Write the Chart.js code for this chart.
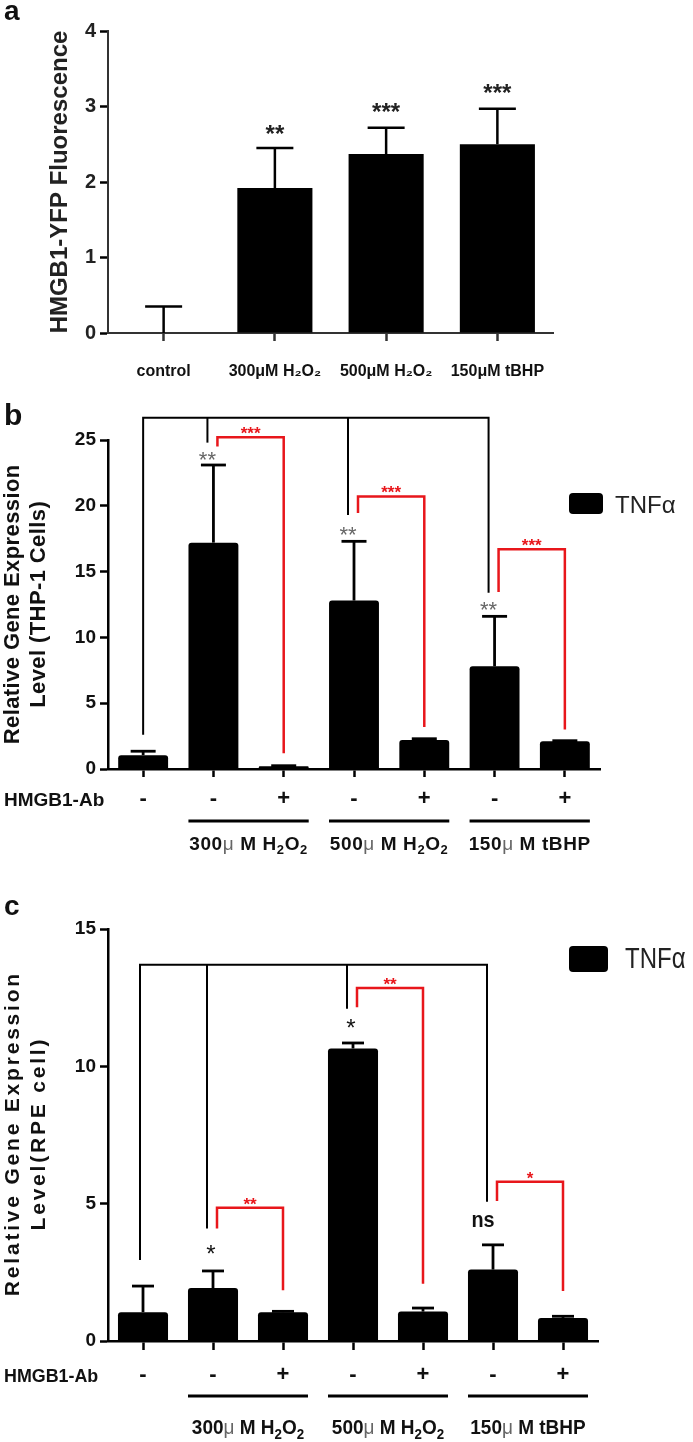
<!DOCTYPE html>
<html>
<head>
<meta charset="utf-8">
<script src="https://cdn.jsdelivr.net/npm/chart.js@4.4.0/dist/chart.umd.min.js"></script>
<style>
    html, body { margin: 0; padding: 0; background: #fff; }
    .panel { position: absolute; left: 0; width: 693px; }
</style>
</head>
<body>
<div class="panel" style="top:0;height:390px"><canvas id="chartA"></canvas></div>
<div class="panel" style="top:390px;height:470px"><canvas id="chartB"></canvas></div>
<div class="panel" style="top:860px;height:582px"><canvas id="chartC"></canvas></div>
<script>
// =====================================================
// DATA
// =====================================================
// panel a
const aLabels = ['control', '300μM H₂O₂', '500μM H₂O₂', '150μM tBHP'];
const aMeans = [0, 1.92, 2.37, 2.5];
const aErrTop = [0.35, 2.45, 2.72, 2.97];
const aStars = ['', '**', '***', '***'];
const aStarAt = [0, 2.72, 3.0, 3.26];
const aTicks = [0, 1, 2, 3, 4];

// panels b and c share the x layout
const abSigns = ['-', '-', '+', '-', '+', '-', '+'];
const groupLabels = ['300μ M H_2O_2', '500μ M H_2O_2', '150μ M tBHP'];
const groupFrom = [1, 3, 5];
const groupTo = [2, 4, 6];

// panel b (THP-1)
const bMeans = [1.05, 17.2, 0.2, 12.8, 2.2, 7.8, 2.1];
const bErrTop = [1.35, 23.1, 0.25, 17.3, 2.3, 11.6, 2.15];
const bTicks = [0, 5, 10, 15, 20, 25];
const bBlackTop = 26.7;
const bBlackEnds = [2.6, 24.8, null, 19.3, null, 13.4, null];
const bRedLeft = [1, 3, 5];
const bRedLeftEnd = [24.5, 19.45, 13.45];
const bRedTop = [25.2, 20.7, 16.7];
const bRedRight = [2, 4, 6];
const bRedRightEnd = [1.2, 3.2, 3.0];
const bRedStars = ['***', '***', '***'];
const bMarks = ['', '**', '', '**', '', '**', ''];
const bMarkAt = [0, 23.9, 0, 18.2, 0, 12.5, 0];

// panel c (RPE)
const cMeans = [1.05, 1.93, 1.05, 10.65, 1.07, 2.6, 0.84];
const cErrTop = [2.0, 2.55, 1.08, 10.85, 1.2, 3.5, 0.9];
const cTicks = [0, 5, 10, 15];
const cBlackTop = 13.7;
const cBlackEnds = [2.95, 4.1, null, 12.1, null, 5.07, null];
const cRedLeft = [1, 3, 5];
const cRedLeftEnd = [4.1, 12.15, 5.1];
const cRedTop = [4.85, 12.85, 5.8];
const cRedRight = [2, 4, 6];
const cRedRightEnd = [1.85, 2.08, 1.82];
const cRedStars = ['**', '**', '*'];
const cMarks = ['', '*', '', '*', '', 'ns', ''];
const cMarkAt = [0, 3.4, 0, 11.6, 0, 4.4, 0];

// =====================================================
// HELPERS
// =====================================================
const FONT = "'Liberation Sans', Arial, sans-serif";
const RED = '#e8161b';

function text(ctx, str, x, y, font, color, align, sx, spacing) {
    ctx.save();
    ctx.font = font;
    ctx.fillStyle = color;
    ctx.textAlign = align || 'center';
    ctx.textBaseline = 'alphabetic';
    if (spacing) ctx.letterSpacing = spacing + 'px';
    ctx.translate(x, y);
    ctx.scale(sx || 1, 1);
    ctx.fillText(str, 0, 0);
    ctx.restore();
}

// marks are placed by their visual centre
function mark(ctx, str, x, yc, size, weight, color) {
    const star = /^\*+$/.test(str);
    text(ctx, str, x, yc + (star ? 0.58 : 0.27) * size, `${weight} ${size}px ${FONT}`, color);
}

function poly(ctx, pts, color, width) {
    ctx.save();
    ctx.strokeStyle = color;
    ctx.lineWidth = width;
    ctx.lineJoin = 'miter';
    ctx.beginPath();
    pts.forEach((p, i) => i ? ctx.lineTo(p[0], p[1]) : ctx.moveTo(p[0], p[1]));
    ctx.stroke();
    ctx.restore();
}

function errorBars(chart, tops, cap, width) {
    const ys = chart.scales.y;
    chart.getDatasetMeta(0).data.forEach((bar, i) => {
        const yt = ys.getPixelForValue(tops[i]);
        poly(chart.ctx, [[bar.x, bar.y], [bar.x, yt]], '#000', width);
        poly(chart.ctx, [[bar.x - cap / 2, yt], [bar.x + cap / 2, yt]], '#000', width);
    });
}

// '_' marks the next character as a subscript
function chemLabel(ctx, label, cx, cy, size, sx, spacing) {
    const parts = [];
    for (let i = 0; i < label.length; i++) {
        if (label[i] === '_') { parts.push({ t: label[++i], f: `bold ${Math.round(size * 0.68)}px ${FONT}`, dy: size * 0.22 }); continue; }
        const mu = label[i] === 'μ';
        parts.push({ t: label[i], f: `${mu ? 'normal' : 'bold'} ${size}px ${FONT}`, dy: 0, c: mu ? '#666' : '#111' });
    }
    ctx.save();
    let total = 0;
    parts.forEach(p => { ctx.font = p.f; p.w = (ctx.measureText(p.t).width + spacing) * sx; total += p.w; });
    let x = cx - total / 2;
    const base = cy + size * 0.36;
    parts.forEach(p => {
        text(ctx, p.t, x, base + p.dy, p.f, p.c || '#111', 'left', sx);
        x += p.w;
    });
    ctx.restore();
}

// rotated two-line axis title, letter spaced
function yTitle(ctx, lines, x, yc, size, lineGap, spacing) {
    ctx.save();
    ctx.translate(x, yc);
    ctx.rotate(-Math.PI / 2);
    ctx.font = `bold ${size}px ${FONT}`;
    ctx.fillStyle = '#111';
    ctx.textAlign = 'center';
    ctx.textBaseline = 'middle';
    ctx.letterSpacing = spacing + 'px';
    lines.forEach((l, i) => ctx.fillText(l, spacing / 2, i * lineGap));
    ctx.restore();
}

function legendBox(ctx, x, y, w, h, label, font, tx, sx) {
    ctx.save();
    ctx.fillStyle = '#000';
    ctx.beginPath();
    ctx.roundRect(x, y, w, h, 4);
    ctx.fill();
    ctx.restore();
    text(ctx, label, tx, y + h / 2 + 9, font, '#222', 'left', sx);
}

// brackets, marks, treatment rows shared by b and c
function decorate(chart, d) {
    const ctx = chart.ctx, xs = chart.scales.x, ys = chart.scales.y;
    const cx = i => xs.getPixelForValue(i);
    const py = v => ys.getPixelForValue(v);
    const bottom = chart.chartArea.bottom;

    // black comparison bracket
    const ty = py(d.blackTop);
    const drops = [];
    d.blackEnds.forEach((v, i) => { if (v !== null) drops.push([cx(i) + (i === 0 ? d.firstOff : -6), py(v)]); });
    const first = drops[0], last = drops[drops.length - 1];
    poly(ctx, [[first[0], first[1]], [first[0], ty], [last[0], ty], [last[0], last[1]]], '#000', 2);
    drops.slice(1, -1).forEach(p => poly(ctx, [[p[0], ty], [p[0], p[1]]], '#000', 2));

    // red antibody brackets
    d.redLeft.forEach((l, k) => {
        const xl = cx(l) + 4, xr = cx(d.redRight[k]), yt = py(d.redTop[k]);
        poly(ctx, [[xl, py(d.redLeftEnd[k])], [xl, yt], [xr, yt], [xr, py(d.redRightEnd[k])]], RED, 2.5);
        mark(ctx, d.redStars[k], (xl + xr) / 2, yt - 8, d.redSize, 'bold', RED);
    });

    // significance vs control
    d.marks.forEach((m, i) => {
        if (!m) return;
        if (m === 'ns') text(ctx, m, cx(i) - 10, py(d.markAt[i]) + 7, `bold 22px ${FONT}`, '#111', 'center', 0.9);
        else mark(ctx, m, cx(i) + d.markOff, py(d.markAt[i]), d.markSize, d.markWeight, d.markColor);
    });

    // HMGB1-Ab row and treatment groups
    text(ctx, 'HMGB1-Ab', 4, bottom + d.rowDy + 7, `bold 19px ${FONT}`, '#111', 'left', d.rowSx);
    groupLabels.forEach((g, k) => {
        const x0 = cx(groupFrom[k]) - 25, x1 = cx(groupTo[k]) + 25;
        poly(ctx, [[x0, bottom + d.lineDy], [x1, bottom + d.lineDy]], '#000', 3);
        chemLabel(ctx, g, (x0 + x1) / 2, bottom + d.labelDy, d.labelSize, d.labelSx, d.labelSpacing);
    });
}

function baseOptions(pad, xHeight, tickFont, signPad) {
    return {
        responsive: true,
        maintainAspectRatio: false,
        animation: false,
        layout: { padding: pad },
        plugins: { legend: { display: false }, tooltip: { enabled: false } },
        scales: {
            x: {
                grid: { display: true, drawOnChartArea: false, offset: false, tickLength: 8, tickWidth: 2.5, tickColor: '#000' },
                border: { display: true, color: '#000', width: 2.5 },
                ticks: { color: '#111', font: tickFont, padding: signPad, maxRotation: 0, autoSkip: false },
                afterFit: s => { s.height = xHeight; }
            },
            y: {
                grid: { drawOnChartArea: false, tickLength: 8, tickWidth: 2.5, tickColor: '#000' },
                border: { display: true, color: '#000', width: 2.5 },
                afterFit: s => { s.width = 108; }
            }
        }
    };
}

// =====================================================
// PANEL A
// =====================================================
const optA = baseOptions({ top: 31, right: 140, bottom: 0, left: 0 }, 57, { family: FONT, size: 16, weight: 'bold' }, 21);
optA.scales.x.grid.tickColor = '#333';
optA.scales.x.border.color = '#333';
optA.scales.x.border.width = 2;
Object.assign(optA.scales.y, {
    min: 0, max: 4,
    afterBuildTicks: s => { s.ticks = aTicks.map(v => ({ value: v })); },
    ticks: { color: '#222', font: { family: FONT, size: 20, weight: 'bold' }, padding: 4 },
    title: { display: true, text: 'HMGB1-YFP Fluorescence', color: '#222', font: { family: FONT, size: 24, weight: 'bold' }, padding: { top: 46, bottom: 0 } }
});
optA.scales.y.border.color = '#333';
optA.scales.y.border.width = 2;

new Chart(document.getElementById('chartA'), {
    type: 'bar',
    data: { labels: aLabels, datasets: [{ data: aMeans, backgroundColor: '#000', barPercentage: 0.675, categoryPercentage: 1 }] },
    options: optA,
    plugins: [{
        id: 'decorA',
        afterDraw(chart) {
            const ctx = chart.ctx, xs = chart.scales.x, ys = chart.scales.y;
            errorBars(chart, aErrTop, 37, 2.5);
            aStars.forEach((s, i) => { if (s) mark(ctx, s, xs.getPixelForValue(i), ys.getPixelForValue(aStarAt[i]), 24, 'bold', '#222'); });
            text(ctx, 'a', 4, 20, `bold 28px ${FONT}`, '#111', 'left');
        }
    }]
});

// =====================================================
// PANEL B
// =====================================================
const optB = baseOptions({ top: 50, right: 93, bottom: 0, left: 0 }, 91, { family: FONT, size: 22, weight: 'bold' }, 9);
Object.assign(optB.scales.y, {
    min: 0, max: 25,
    afterBuildTicks: s => { s.ticks = bTicks.map(v => ({ value: v })); },
    ticks: { color: '#111', font: { family: FONT, size: 19, weight: 'bold' }, padding: 4 }
});

new Chart(document.getElementById('chartB'), {
    type: 'bar',
    data: { labels: abSigns, datasets: [{ data: bMeans, backgroundColor: '#000', borderRadius: 3, borderSkipped: 'bottom', barPercentage: 0.71, categoryPercentage: 1 }] },
    options: optB,
    plugins: [{
        id: 'decorB',
        afterDraw(chart) {
            const area = chart.chartArea;
            errorBars(chart, bErrTop, 25, 2.8);
            decorate(chart, {
                blackTop: bBlackTop, blackEnds: bBlackEnds, firstOff: 0,
                redLeft: bRedLeft, redLeftEnd: bRedLeftEnd, redTop: bRedTop, redRight: bRedRight, redRightEnd: bRedRightEnd,
                redStars: bRedStars, redSize: 17,
                marks: bMarks, markAt: bMarkAt, markOff: -6, markSize: 22, markWeight: 'normal', markColor: '#666',
                rowDy: 30, rowSx: 1, lineDy: 52, labelDy: 74, labelSize: 19, labelSx: 1, labelSpacing: 0.6
            });
            yTitle(chart.ctx, ['Relative Gene Expression', 'Level (THP-1 Cells)'], 13, (area.top + area.bottom) / 2, 22, 26, 0.4);
            legendBox(chart.ctx, 569, 103, 34, 21, 'TNFα', `normal 24px ${FONT}`, 615, 1);
            text(chart.ctx, 'b', 4, 35, `bold 30px ${FONT}`, '#111', 'left');
        }
    }]
});

// =====================================================
// PANEL C
// =====================================================
const optC = baseOptions({ top: 69, right: 95, bottom: 0, left: 0 }, 101, { family: FONT, size: 22, weight: 'bold' }, 12);
optC.scales.x.grid.tickLength = 9;
Object.assign(optC.scales.y, {
    min: 0, max: 15,
    afterBuildTicks: s => { s.ticks = cTicks.map(v => ({ value: v })); },
    ticks: { color: '#111', font: { family: FONT, size: 19, weight: 'bold' }, padding: 4 }
});

new Chart(document.getElementById('chartC'), {
    type: 'bar',
    data: { labels: abSigns, datasets: [{ data: cMeans, backgroundColor: '#000', borderRadius: 3, borderSkipped: 'bottom', barPercentage: 0.715, categoryPercentage: 1 }] },
    options: optC,
    plugins: [{
        id: 'decorC',
        afterDraw(chart) {
            const area = chart.chartArea;
            errorBars(chart, cErrTop, 22, 2.8);
            decorate(chart, {
                blackTop: cBlackTop, blackEnds: cBlackEnds, firstOff: -3,
                redLeft: cRedLeft, redLeftEnd: cRedLeftEnd, redTop: cRedTop, redRight: cRedRight, redRightEnd: cRedRightEnd,
                redStars: cRedStars, redSize: 17,
                marks: cMarks, markAt: cMarkAt, markOff: -2, markSize: 24, markWeight: 'normal', markColor: '#111',
                rowDy: 34, rowSx: 0.94, lineDy: 55, labelDy: 86, labelSize: 20, labelSx: 0.95, labelSpacing: 0
            });
            yTitle(chart.ctx, ['Relative Gene Expression', 'Level(RPE cell)'], 13, (area.top + area.bottom) / 2, 21, 26, 2.8);
            legendBox(chart.ctx, 569, 86, 39, 26, 'TNFα', `normal 30px ${FONT}`, 625, 0.8);
            text(chart.ctx, 'c', 4, 55, `bold 28px ${FONT}`, '#111', 'left');
        }
    }]
});
</script>
</body>
</html>
